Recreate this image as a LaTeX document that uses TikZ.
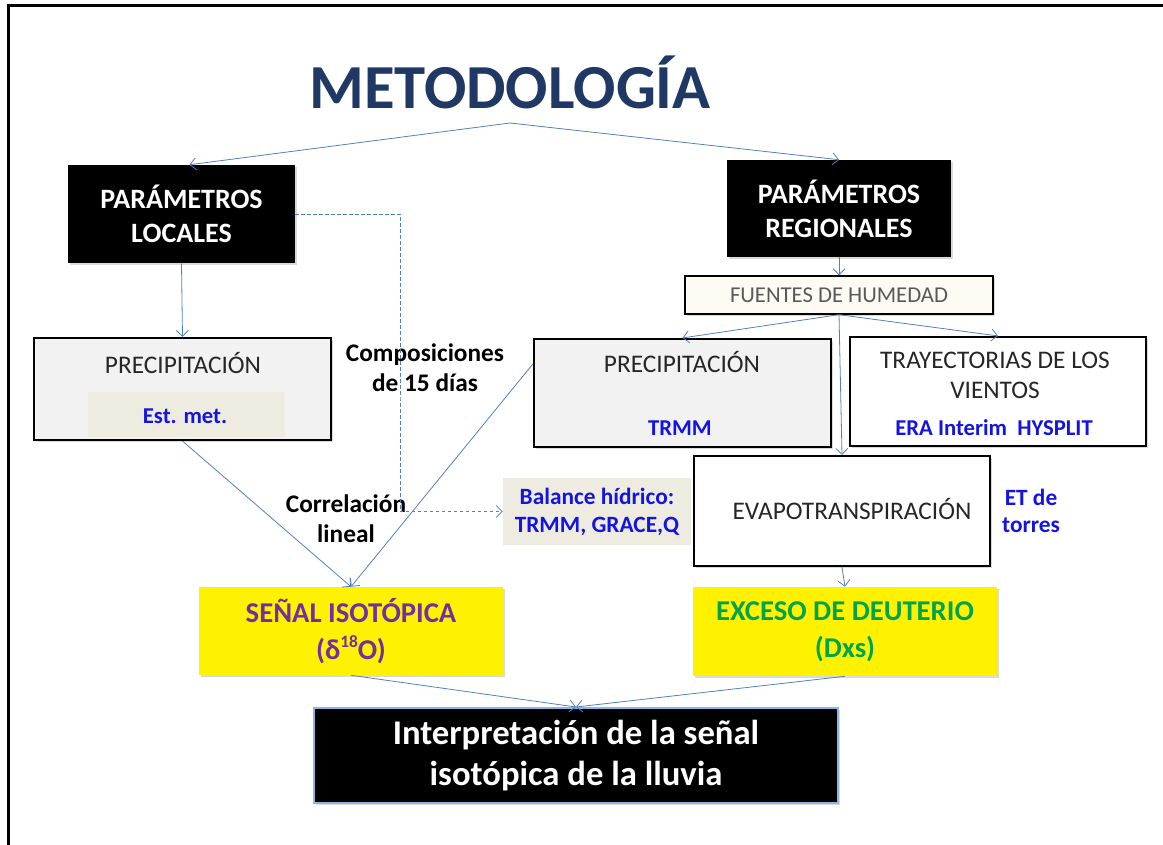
\documentclass[tikz,border=0pt]{standalone}
\usepackage{fontspec}
\setmainfont{Carlito}
\usetikzlibrary{arrows.meta, positioning, shadows}

\definecolor{titleblue}{RGB}{31,56,100}
\definecolor{linkblue}{RGB}{79,129,189}
\definecolor{txtblue}{RGB}{20,20,225}
\definecolor{isopurple}{RGB}{112,48,160}
\definecolor{dxsgreen}{RGB}{0,165,75}
\definecolor{panelgray}{RGB}{242,242,242}
\definecolor{notegray}{RGB}{238,236,225}
\definecolor{cream}{RGB}{253,251,244}
\definecolor{glowblue}{RGB}{141,180,226}
\definecolor{headgray}{RGB}{38,38,38}
\definecolor{humgray}{RGB}{89,89,89}

\begin{document}
\begin{tikzpicture}[x=0.75pt, y=-0.75pt,
    link/.style={draw=linkblue, line width=0.6pt, -{Straight Barb[length=4.5pt,width=9pt]}},
    linkdash/.style={link, dash pattern=on 2.5pt off 2pt},
    softshadow/.style={drop shadow={opacity=0.3, shadow xshift=1.5pt, shadow yshift=-1.5pt}},
    blackbox/.style={fill=black, text=white, inner sep=0pt, align=center,
        font=\bfseries\fontsize{21}{25.5}\selectfont, softshadow},
    framebox/.style={draw=black, line width=1.6pt, inner sep=0pt, softshadow},
    yellowbox/.style={fill=yellow, inner sep=0pt, align=center,
        font=\bfseries\fontsize{21.5}{28}\selectfont, softshadow},
    heading/.style={text=headgray, font=\fontsize{19}{22.5}\selectfont, align=center, inner sep=0pt},
    source/.style={text=txtblue, font=\bfseries\fontsize{17}{20.5}\selectfont, align=center, inner sep=0pt},
    remark/.style={font=\bfseries\fontsize{19}{22.5}\selectfont, align=center, inner sep=0pt}
]
\useasboundingbox (0,0) rectangle (1163,845);
\draw[line width=2.4pt] (8.5,845) -- (8.5,5.5) -- (1163,5.5);

\node (title) at (510,82) [text=titleblue, font=\bfseries\fontsize{47}{56}\selectfont] {METODOLOGÍA};
\coordinate (split) at (510,123);

\node (loc) at (181.5,214) [blackbox, minimum width=170.25pt, minimum height=73.5pt] {PARÁMETROS\\LOCALES};
\node (reg) at (839,208.5) [blackbox, minimum width=168pt, minimum height=72.75pt] {PARÁMETROS\\REGIONALES};
\node (hum) at (839,295) [framebox, line width=1pt, fill=cream, minimum width=231pt, minimum height=28.5pt,
    text=humgray, font=\fontsize{17}{20}\selectfont] {FUENTES DE HUMEDAD};

\node (precL) at (182.5,389) [framebox, fill=panelgray, minimum width=222.75pt, minimum height=76.5pt] {};
\node (estmet) at (186.5,414.5) [fill=notegray, minimum width=147.75pt, minimum height=33.75pt, inner sep=0pt] {};
\node (precLt) at (183,363) [heading] {PRECIPITACIÓN};
\node (estmett) at (185,416) [source] {Est. met.};

\node (precR) at (682.5,393) [framebox, fill=panelgray, minimum width=222.75pt, minimum height=81pt] {};
\node (precRt) at (682,362) [heading] {PRECIPITACIÓN};
\node (trmm) at (680,428) [source] {TRMM};

\node (tray) at (998,391.5) [framebox, fill=white, minimum width=222pt, minimum height=81.75pt] {};
\node (trayt) at (995,375) [heading] {TRAYECTORIAS DE LOS\\VIENTOS};
\node (era) at (994,428) [source] {ERA Interim~~HYSPLIT};

\node (evap) at (842,511) [framebox, fill=white, minimum width=222pt, minimum height=82.5pt] {};
\node (evapt) at (852,509) [heading] {EVAPOTRANSPIRACIÓN};
\node (bal) at (597,511.5) [source, fill=notegray, minimum width=141pt, minimum height=50.25pt,
    font=\bfseries\fontsize{17.5}{21}\selectfont] {Balance hídrico:\\TRMM, GRACE,Q};
\node (etnote) at (1031,511) [source, font=\bfseries\fontsize{17.5}{20}\selectfont] {ET de\\torres};

\node (comp) at (425,368) [remark] {Composiciones\\de 15 días};
\node (corr) at (346,518.5) [remark] {Correlación\\lineal};

\node (iso) at (351,631) [yellowbox, text=isopurple, minimum width=228pt, minimum height=66pt]
    {SEÑAL ISOTÓPICA\\(δ\raisebox{0.42em}{\fontsize{13}{13}\selectfont 18}O)};
\node (dxs) at (845,631.5) [yellowbox, text=dxsgreen, minimum width=228pt, minimum height=66.75pt] {EXCESO DE DEUTERIO\\(Dxs)};
\node (fin) at (576,755.5) [blackbox, draw=glowblue, line width=1.5pt, minimum width=393pt, minimum height=71.25pt,
    font=\bfseries\fontsize{26}{31}\selectfont] {Interpretación de la señal\\isotópica de la lluvia};

\draw[link] (split) -- ([xshift=6pt]loc.north);
\draw[link] (split) -- (reg.north);
\draw[link] (loc.south) -- (precL.north);
\draw[link] (reg.south) -- (hum.north);
\draw[link] (hum.south) -- (precR.north);
\draw[link] (hum.south) -- (tray.north);
\draw[link] (hum.south) -- (evap.north);
\draw[link] (precL.south) -- (iso.north);
\draw[link] (precR.169) -- (iso.north);
\draw[link] (evap.south) -- (dxs.north);
\draw[link] (iso.south) -- (fin.north);
\draw[link] (dxs.south) -- (fin.north);
\coordinate (dashturn) at (400,400);
\draw[linkdash] (loc.east) -| (dashturn) |- (bal.west);
\end{tikzpicture}
\end{document}
